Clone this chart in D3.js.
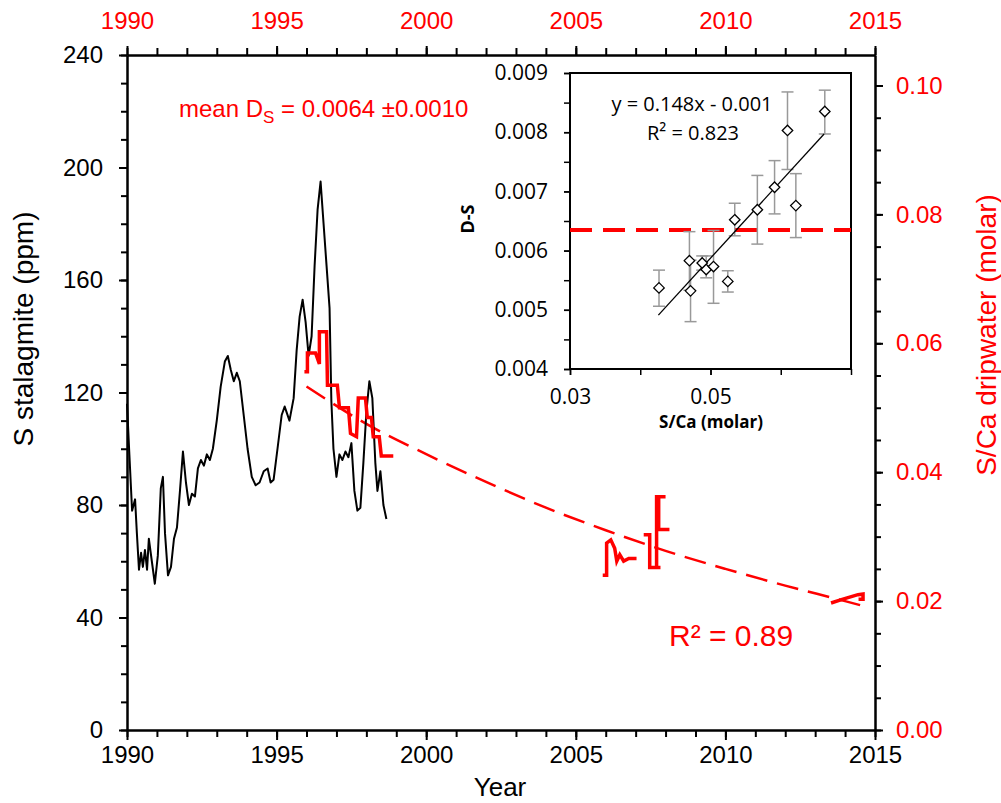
<!DOCTYPE html>
<html lang="en">
<head>
<meta charset="UTF-8">
<title>S stalagmite and dripwater S/Ca</title>
<style>
  body { margin: 0; background: #fff; }
  svg text { font-family: "Liberation Sans", Arial, sans-serif; }
  .inset text { font-family: "Open Sans", "Noto Sans", sans-serif; }
</style>
</head>
<body>
<div id="chart"></div>
<script src="https://cdnjs.cloudflare.com/ajax/libs/d3/7.8.2/d3.min.js"></script>
<script>
// stalagmite S (ppm) vs year
var stalYears = [1990.00, 1990.07, 1990.17, 1990.27, 1990.33, 1990.40, 1990.47, 1990.53, 1990.60, 1990.67,
  1990.73, 1990.83, 1990.93, 1991.03, 1991.13, 1991.20, 1991.27, 1991.37, 1991.47, 1991.57,
  1991.67, 1991.77, 1991.87, 1991.97, 1992.07, 1992.17, 1992.27, 1992.37, 1992.47, 1992.57,
  1992.67, 1992.77, 1992.87, 1993.00, 1993.13, 1993.27, 1993.37, 1993.47, 1993.57, 1993.67,
  1993.77, 1993.90, 1994.03, 1994.17, 1994.30, 1994.43, 1994.57, 1994.70, 1994.80, 1994.90,
  1995.03, 1995.17, 1995.27, 1995.43, 1995.57, 1995.67, 1995.77, 1995.87, 1995.97, 1996.07,
  1996.17, 1996.27, 1996.37, 1996.47, 1996.57, 1996.67, 1996.77, 1996.83, 1996.90, 1997.00,
  1997.10, 1997.20, 1997.30, 1997.40, 1997.50, 1997.60, 1997.70, 1997.80, 1997.90, 1998.00,
  1998.10, 1998.20, 1998.30, 1998.37, 1998.47, 1998.57, 1998.67];
var stalPpm = [116, 100, 78, 82, 70, 57, 63, 58, 64, 57,
  68, 60, 52, 62, 86, 90, 70, 55, 58, 68,
  72, 85, 99, 88, 80, 84, 83, 93, 96, 94,
  98, 96, 100, 110, 122, 131, 133, 128, 124, 127,
  124, 112, 100, 90, 87, 88, 92, 93, 88, 89,
  100, 112, 115, 110, 118, 135, 147, 153, 145, 133,
  140, 165, 185, 195, 180, 165, 150, 117, 100, 90,
  98, 96, 99, 97, 102, 85, 78, 79, 95, 113,
  124, 118, 95, 85, 92, 80, 75];

// dripwater S/Ca (molar), four sampling periods
var dripYears1 = [1995.93, 1996.03, 1996.03, 1996.30, 1996.43, 1996.43, 1996.67, 1996.70, 1997.03, 1997.10,
  1997.40, 1997.47, 1997.67, 1997.73, 1997.97, 1998.03, 1998.17, 1998.23, 1998.43, 1998.50, 1998.90];
var dripVals1 = [0.0556, 0.0556, 0.0585, 0.0585, 0.0568, 0.0618, 0.0618, 0.0535, 0.0535, 0.0500,
  0.0500, 0.0460, 0.0455, 0.0515, 0.0515, 0.0485, 0.0485, 0.0455, 0.0455, 0.0425, 0.0425];
var dripYears2 = [2005.90, 2006.03, 2006.03, 2006.17, 2006.30, 2006.37, 2006.47, 2006.60, 2006.77, 2007.03];
var dripVals2 = [0.0240, 0.0240, 0.0290, 0.0295, 0.0282, 0.0262, 0.0272, 0.0262, 0.0266, 0.0266];
var dripYears3 = [2007.27, 2007.47, 2007.47, 2007.83, 2007.70, 2007.70, 2008.00, 2007.77, 2007.77, 2008.13];
var dripVals3 = [0.0303, 0.0303, 0.0252, 0.0252, 0.0252, 0.0362, 0.0362, 0.0362, 0.0311, 0.0311];
var dripYears4 = [2013.53, 2013.93, 2014.43, 2014.60, 2014.60, 2014.45];
var dripVals4 = [0.0197, 0.0203, 0.0210, 0.0211, 0.0203, 0.0203];

// exponential fit curve
var fitYears = [1996, 1998, 2000, 2002, 2004, 2006, 2008, 2010, 2012, 2014, 2014.8];
var fitVals = [0.0533, 0.0475, 0.0428, 0.0385, 0.0345, 0.0310, 0.0278, 0.0250, 0.0224, 0.0200, 0.0190];

// inset: D-S vs S/Ca
var insetSCa = [0.04267, 0.0470, 0.04716, 0.04882, 0.04939, 0.05043, 0.05246, 0.05345, 0.05667, 0.05912, 0.06096, 0.06215, 0.06627];
var insetDS = [0.00537, 0.00583, 0.00532, 0.00579, 0.00568, 0.00573, 0.00548, 0.00652, 0.00669, 0.00707, 0.00803, 0.00676, 0.00835];
var insetErrLo = [0.00506, 0.00533, 0.00480, 0.00567, 0.00554, 0.00511, 0.00530, 0.00625, 0.00611, 0.00662, 0.00737, 0.00622, 0.00797];
var insetErrHi = [0.00567, 0.00632, 0.00584, 0.00591, 0.00591, 0.00634, 0.00566, 0.00680, 0.00727, 0.00752, 0.00868, 0.00730, 0.00871];
var regX = [0.04258, 0.06617];
var regY = [0.00491, 0.00797];
var meanDS = 0.00635;

var yearTicks = [1990, 1995, 2000, 2005, 2010, 2015];
var ppmTicks = [0, 40, 80, 120, 160, 200, 240];
var molarTicks = [0, 0.02, 0.04, 0.06, 0.08, 0.10];
var insetYTicks = [0.004, 0.005, 0.006, 0.007, 0.008, 0.009];
var insetXTicks = [0.03, 0.05];

var W = 1001, H = 803;
var L = 127, R = 875, T = 55, B = 730;

var svg = d3.select("#chart").append("svg")
  .attr("width", W).attr("height", H);

var x = d3.scaleLinear().domain([1990, 2015]).range([L, R]);
var y = d3.scaleLinear().domain([0, 240]).range([B, T]);
var y2 = d3.scaleLinear().domain([0, 0.10473]).range([B, T]);

function styleAxis(g, color) {
  g.select(".domain").attr("stroke", "#000").attr("stroke-width", 2);
  g.selectAll(".tick line").attr("stroke", "#000").attr("stroke-width", 2);
  g.selectAll("text").attr("fill", color).style("font-size", "24px")
    .style("font-family", "'Liberation Sans', Arial, sans-serif");
}

// minor ticks first
var minorYears = d3.range(1990, 2016, 1);
svg.append("g").attr("transform", "translate(0," + B + ")")
  .call(d3.axisBottom(x).tickValues(minorYears).tickSize(7).tickFormat("").tickSizeOuter(0))
  .call(function(g) { styleAxis(g, "#000"); });
svg.append("g").attr("transform", "translate(0," + T + ")")
  .call(d3.axisTop(x).tickValues(minorYears).tickSize(7).tickFormat("").tickSizeOuter(0))
  .call(function(g) { styleAxis(g, "#000"); });
svg.append("g").attr("transform", "translate(" + L + ",0)")
  .call(d3.axisLeft(y).tickValues(d3.range(0, 241, 10)).tickSize(6).tickFormat("").tickSizeOuter(0))
  .call(function(g) { styleAxis(g, "#000"); });
svg.append("g").attr("transform", "translate(" + R + ",0)")
  .call(d3.axisRight(y2).tickValues(d3.range(0, 21).map(function(i) { return i * 0.005; })).tickSize(6).tickFormat("").tickSizeOuter(0))
  .call(function(g) { styleAxis(g, "#000"); });

// major ticks with labels
svg.append("g").attr("transform", "translate(0," + B + ")")
  .call(d3.axisBottom(x).tickValues(yearTicks).tickSize(10).tickPadding(6).tickFormat(d3.format("d")).tickSizeOuter(0))
  .call(function(g) { styleAxis(g, "#000"); });
svg.append("g").attr("transform", "translate(0," + T + ")")
  .call(d3.axisTop(x).tickValues(yearTicks).tickSize(9).tickPadding(17).tickFormat(d3.format("d")).tickSizeOuter(0))
  .call(function(g) { styleAxis(g, "red"); });
svg.append("g").attr("transform", "translate(" + L + ",0)")
  .call(d3.axisLeft(y).tickValues(ppmTicks).tickSize(8).tickPadding(16).tickSizeOuter(0))
  .call(function(g) { styleAxis(g, "#000"); });
svg.append("g").attr("transform", "translate(" + R + ",0)")
  .call(d3.axisRight(y2).tickValues(molarTicks).tickSize(8).tickPadding(13).tickFormat(d3.format(".2f")).tickSizeOuter(0))
  .call(function(g) { styleAxis(g, "red"); });

// axis titles
svg.append("text").attr("x", 500).attr("y", 796).attr("text-anchor", "middle")
  .style("font-size", "26px").text("Year");
svg.append("text").attr("transform", "translate(33,329) rotate(-90)")
  .attr("text-anchor", "middle").style("font-size", "28px").text("S stalagmite (ppm)");
svg.append("text").attr("transform", "translate(996,335) rotate(-90)")
  .attr("text-anchor", "middle").attr("fill", "red").style("font-size", "28px").text("S/Ca dripwater (molar)");

// fit curve
var fitLine = d3.line().x(function(d) { return x(d[0]); }).y(function(d) { return y2(d[1]); }).curve(d3.curveMonotoneX);
svg.append("path")
  .datum(d3.zip(fitYears, fitVals))
  .attr("d", fitLine)
  .attr("fill", "none").attr("stroke", "red").attr("stroke-width", 2.5)
  .attr("stroke-dasharray", "22,10");

// stalagmite line
var stalLine = d3.line().x(function(d) { return x(d[0]); }).y(function(d) { return y(d[1]); });
svg.append("path")
  .datum(d3.zip(stalYears, stalPpm))
  .attr("d", stalLine)
  .attr("fill", "none").attr("stroke", "#000").attr("stroke-width", 2)
  .attr("stroke-linejoin", "round");

// dripwater
var dripLine = d3.line().x(function(d) { return x(d[0]); }).y(function(d) { return y2(d[1]); });
[[dripYears1, dripVals1], [dripYears2, dripVals2], [dripYears3, dripVals3], [dripYears4, dripVals4]].forEach(function(s) {
  svg.append("path")
    .datum(d3.zip(s[0], s[1]))
    .attr("d", dripLine)
    .attr("fill", "none").attr("stroke", "red").attr("stroke-width", 3.5)
    .attr("stroke-linejoin", "miter");
});

// annotations
var mean = svg.append("text").attr("x", 179).attr("y", 117).attr("fill", "red").style("font-size", "24px");
mean.append("tspan").text("mean D");
mean.append("tspan").attr("dy", 6).style("font-size", "17px").text("S");
mean.append("tspan").attr("dy", -6).text(" = 0.0064 \u00b10.0010");

svg.append("text").attr("x", 669).attr("y", 646).attr("fill", "red").style("font-size", "30px").text("R\u00b2 = 0.89");

// inset
var ix = d3.scaleLinear().domain([0.03, 0.07]).range([570, 851]);
var iy = d3.scaleLinear().domain([0.004, 0.009]).range([369, 73]);
var inset = svg.append("g").attr("class", "inset");

function styleInset(g) {
  g.select(".domain").remove();
  g.selectAll(".tick line").attr("stroke", "#000").attr("stroke-width", 1.5);
  g.selectAll("text").attr("fill", "#000").style("font-size", "21px")
    .style("font-family", "'Open Sans', 'Noto Sans', sans-serif");
}
inset.append("g").attr("transform", "translate(570,0)")
  .call(d3.axisLeft(iy).tickValues(d3.range(0, 11).map(function(i) { return 0.004 + i * 0.0005; })).tickSize(6).tickFormat(""))
  .call(styleInset);
inset.append("g").attr("transform", "translate(570,0)")
  .call(d3.axisLeft(iy).tickValues(insetYTicks).tickSize(6).tickPadding(16).tickFormat(d3.format(".3f")))
  .call(styleInset);
inset.append("g").attr("transform", "translate(0,369)")
  .call(d3.axisBottom(ix).tickValues([0.03, 0.04, 0.05, 0.06, 0.07]).tickSize(6).tickFormat(""))
  .call(styleInset);
inset.append("g").attr("transform", "translate(0,369)")
  .call(d3.axisBottom(ix).tickValues(insetXTicks).tickSize(6).tickPadding(14).tickFormat(d3.format(".2f")))
  .call(styleInset);

inset.append("rect").attr("x", 570).attr("y", 73).attr("width", 281).attr("height", 296)
  .attr("fill", "none").attr("stroke", "#000").attr("stroke-width", 2);

inset.append("text").attr("transform", "translate(474,219) rotate(-90)")
  .attr("text-anchor", "middle").style("font-size", "18px").style("font-weight", "bold").text("D-S");
inset.append("text").attr("x", 711).attr("y", 428)
  .attr("text-anchor", "middle").style("font-size", "17px").style("font-weight", "bold").text("S/Ca (molar)");

// mean line
inset.append("line")
  .attr("x1", ix(0.03)).attr("x2", ix(0.07)).attr("y1", iy(meanDS)).attr("y2", iy(meanDS))
  .attr("stroke", "red").attr("stroke-width", 4).attr("stroke-dasharray", "22,11");

// error bars
var pts = d3.range(insetSCa.length).map(function(i) {
  return { x: insetSCa[i], y: insetDS[i], lo: insetErrLo[i], hi: insetErrHi[i] };
});
var eb = inset.selectAll(".eb").data(pts).enter().append("g").attr("class", "eb");
eb.append("line")
  .attr("x1", function(d) { return ix(d.x); }).attr("x2", function(d) { return ix(d.x); })
  .attr("y1", function(d) { return iy(d.lo); }).attr("y2", function(d) { return iy(d.hi); })
  .attr("stroke", "#999").attr("stroke-width", 1.5);
["lo", "hi"].forEach(function(k) {
  eb.append("line")
    .attr("x1", function(d) { return ix(d.x) - 6; }).attr("x2", function(d) { return ix(d.x) + 6; })
    .attr("y1", function(d) { return iy(d[k]); }).attr("y2", function(d) { return iy(d[k]); })
    .attr("stroke", "#999").attr("stroke-width", 1.5);
});

// regression line
inset.append("line")
  .attr("x1", ix(regX[0])).attr("y1", iy(regY[0]))
  .attr("x2", ix(regX[1])).attr("y2", iy(regY[1]))
  .attr("stroke", "#000").attr("stroke-width", 1.3);

// diamonds
inset.selectAll(".pt").data(pts).enter().append("path")
  .attr("transform", function(d) { return "translate(" + ix(d.x) + "," + iy(d.y) + ")"; })
  .attr("d", d3.symbol().type(d3.symbolDiamond2).size(70))
  .attr("fill", "#fff").attr("stroke", "#000").attr("stroke-width", 1.3);

inset.append("text").attr("x", 692).attr("y", 111).attr("text-anchor", "middle")
  .style("font-size", "20px").text("y = 0.148x - 0.001");
inset.append("text").attr("x", 693).attr("y", 140).attr("text-anchor", "middle")
  .style("font-size", "20px").text("R\u00b2 = 0.823");
</script>
</body>
</html>
